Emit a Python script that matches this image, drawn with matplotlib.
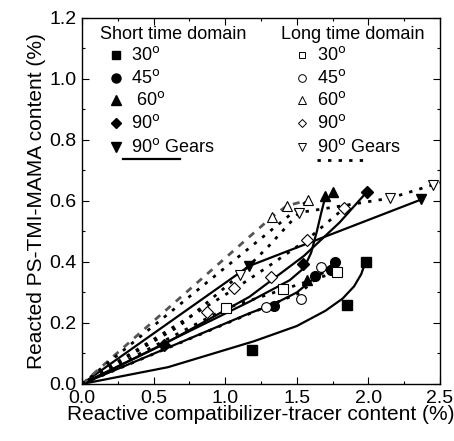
"""
Reacted PS-TMI-MAMA vs reactive compatibilizer-tracer content
"""
import matplotlib
matplotlib.use('Agg')
import matplotlib.pyplot as plt

plt.rcParams['font.family'] = ['Liberation Sans', 'DejaVu Sans']

# ---- data: short time domain (filled markers) ----
s30_x = [1.19, 1.85, 1.98]
s30_y = [0.11, 0.26, 0.40]
s45_x = [1.34, 1.63, 1.74, 1.77]
s45_y = [0.257, 0.354, 0.374, 0.401]
s60_x = [1.57, 1.70, 1.755]
s60_y = [0.341, 0.615, 0.63]
s90_x = [0.57, 1.545, 1.99]
s90_y = [0.128, 0.393, 0.63]
sg_x = [1.168, 2.37]
sg_y = [0.387, 0.605]

# ---- data: long time domain (open markers) ----
l30_x = [1.006, 1.406, 1.783]
l30_y = [0.248, 0.31, 0.368]
l45_x = [1.285, 1.527, 1.667]
l45_y = [0.253, 0.278, 0.385]
l60_x = [1.33, 1.43, 1.58]
l60_y = [0.549, 0.584, 0.603]
l90_x = [0.87, 1.06, 1.318, 1.569, 1.83]
l90_y = [0.237, 0.314, 0.352, 0.472, 0.576]
lg_x = [1.103, 1.518, 2.15, 2.45]
lg_y = [0.357, 0.562, 0.609, 0.652]

# ---- fitted guide curves ----
f_s30_x = [0, 0.6, 1.2, 1.5, 1.7, 1.82, 1.9, 1.95, 1.98]
f_s30_y = [0, 0.055, 0.14, 0.19, 0.24, 0.28, 0.32, 0.36, 0.40]
f_s45_x = [0, 1.17, 1.34, 1.5, 1.63, 1.77]
f_s45_y = [0, 0.232, 0.262, 0.30, 0.35, 0.40]
f_s60_x = [0, 1.17, 1.45, 1.55, 1.60, 1.64, 1.67, 1.70]
f_s60_y = [0, 0.27, 0.34, 0.38, 0.43, 0.50, 0.56, 0.615]
f_s90_x = [0, 0.57, 1.17, 1.55, 1.8, 1.99]
f_s90_y = [0, 0.13, 0.286, 0.42, 0.53, 0.63]
f_sg_x = [0, 1.168, 2.37]
f_sg_y = [0, 0.387, 0.605]

f_l30_x = [0, 1.006, 1.406, 1.783]
f_l30_y = [0, 0.248, 0.31, 0.368]
f_l45_x = [0, 1.285, 1.527, 1.667, 1.75]
f_l45_y = [0, 0.253, 0.30, 0.36, 0.385]
f_l60_x = [0, 1.33, 1.43, 1.58]
f_l60_y = [0, 0.549, 0.584, 0.603]
f_l60b_x = [0, 1.58]
f_l60b_y = [0, 0.603]
f_l90_x = [0, 1.06, 1.30, 1.569, 1.83]
f_l90_y = [0, 0.31, 0.385, 0.472, 0.576]
f_lg_x = [0, 0.68, 1.10, 1.30, 1.518, 2.15, 2.5]
f_lg_y = [0, 0.19, 0.357, 0.45, 0.562, 0.609, 0.66]

fig = plt.figure(figsize=(4.54, 4.41), dpi=100)
ax = fig.add_axes([0.1806, 0.1293, 0.7885, 0.8299])

solid = dict(color='black', linewidth=1.6, linestyle='-')
dotted = dict(color='black', linewidth=2.0, linestyle=(0, (1.2, 2.6)))
dashed = dict(color='#555555', linewidth=2.0, linestyle=(0, (2.5, 2.5)))

# guide curves
ax.plot(f_s30_x, f_s30_y, **solid)
ax.plot(f_s45_x, f_s45_y, **solid)
ax.plot(f_s60_x, f_s60_y, **solid)
ax.plot(f_s90_x, f_s90_y, **solid)
ax.plot(f_sg_x, f_sg_y, **solid)
ax.plot(f_l30_x, f_l30_y, **dotted)
ax.plot(f_l45_x, f_l45_y, **dotted)
ax.plot(f_l60_x, f_l60_y, **dashed)
ax.plot(f_l60b_x, f_l60b_y, **dotted)
ax.plot(f_l90_x, f_l90_y, **dotted)
ax.plot(f_lg_x, f_lg_y, **dotted)

# markers
ms = 7
ax.plot(s30_x, s30_y, 's', color='black', ms=ms - 0.5, ls='none')
ax.plot(s45_x, s45_y, 'o', color='black', ms=ms, ls='none')
ax.plot(s60_x, s60_y, '^', color='black', ms=ms + 0.5, ls='none')
ax.plot(s90_x, s90_y, 'D', color='black', ms=ms - 1, ls='none')
ax.plot(sg_x, sg_y, 'v', color='black', ms=ms + 0.5, ls='none')
open_kw = dict(mfc='white', mec='black', mew=0.8, ls='none')
ax.plot(l30_x, l30_y, 's', ms=ms - 0.5, **open_kw)
ax.plot(l45_x, l45_y, 'o', ms=ms, **open_kw)
ax.plot(l60_x, l60_y, '^', ms=ms + 0.5, **open_kw)
ax.plot(l90_x, l90_y, 'D', ms=ms - 1, **open_kw)
ax.plot(lg_x, lg_y, 'v', ms=ms + 0.5, **open_kw)

# hand-made legend (two columns)
ax.text(0.05, 0.955, 'Short time domain', transform=ax.transAxes, fontsize=13,
        va='center', ha='left')
ax.text(0.555, 0.955, 'Long time domain', transform=ax.transAxes, fontsize=13,
        va='center', ha='left')
labels = ['30$^{\\rm o}$', '45$^{\\rm o}$', ' 60$^{\\rm o}$', '90$^{\\rm o}$',
          '90$^{\\rm o}$ Gears']
labels_l = ['30$^{\\rm o}$', '45$^{\\rm o}$', '60$^{\\rm o}$', '90$^{\\rm o}$',
            '90$^{\\rm o}$ Gears']
mk = ['s', 'o', '^', 'D', 'v']
msz = [6.5, 7, 7.5, 6, 7.5]
rows = [0.898, 0.837, 0.777, 0.713, 0.647]
for i in range(5):
    ax.plot([0.095], [rows[i]], mk[i], color='black', ms=msz[i] - 0.5,
            transform=ax.transAxes, clip_on=False)
    ax.text(0.137, rows[i], labels[i], transform=ax.transAxes, fontsize=13,
            va='center', ha='left')
    ax.plot([0.614], [rows[i]], mk[i], ms=msz[i] - 1.5, mfc='white',
            mec='black', mew=0.7, transform=ax.transAxes, clip_on=False)
    ax.text(0.656, rows[i], labels_l[i], transform=ax.transAxes, fontsize=13,
            va='center', ha='left')
ax.plot([0.115, 0.274], [0.616, 0.616], transform=ax.transAxes, **solid)
ax.plot([0.656, 0.80], [0.612, 0.612], transform=ax.transAxes, **dotted)

ax.set_xlim(0, 2.5)
ax.set_ylim(0, 1.2)
ax.set_xticks([0.0, 0.5, 1.0, 1.5, 2.0, 2.5])
ax.set_xticks([0.25, 0.75, 1.25, 1.75, 2.25], minor=True)
ax.set_yticks([0.0, 0.2, 0.4, 0.6, 0.8, 1.0, 1.2])
ax.set_yticks([0.1, 0.3, 0.5, 0.7, 0.9, 1.1], minor=True)
ax.set_xticklabels(['0.0', '0.5', '1.0', '1.5', '2.0', '2.5'])
ax.set_yticklabels(['0.0', '0.2', '0.4', '0.6', '0.8', '1.0', '1.2'])
ax.tick_params(which='both', direction='in', top=True, right=True,
               labelsize=14, width=0.8)
ax.tick_params(which='major', length=5)
ax.tick_params(axis='x', which='major', pad=4)
ax.tick_params(axis='y', which='major', pad=4)
ax.tick_params(which='minor', length=2.5)
for sp in ax.spines.values():
    sp.set_linewidth(1.0)

ax.set_xlabel('Reactive compatibilizer-tracer content (%)', fontsize=15,
              labelpad=-1)
ax.set_ylabel('Reacted PS-TMI-MAMA content (%)', fontsize=15, labelpad=2)

fig.savefig('out.png', dpi=100)
